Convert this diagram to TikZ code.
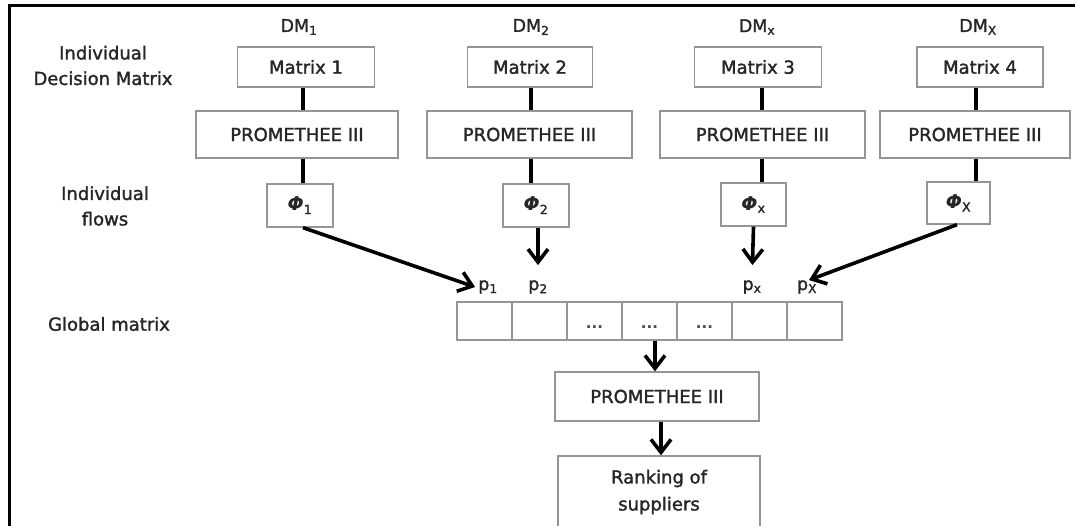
\documentclass[tikz,border=0pt]{standalone}
\usepackage{fontspec}
\setmainfont{DejaVu Sans}
\newfontfamily\heavysans{DejaVu Sans}[FakeBold=1.6]
\newfontfamily\dotfont{DejaVu Sans Bold}
\newfontfamily\phifont{DejaVu Sans Bold Oblique}
\usetikzlibrary{arrows.meta}
\definecolor{boxgray}{HTML}{959595}
\definecolor{txt}{HTML}{262626}
\definecolor{dotgray}{HTML}{4A4A4A}
\newcommand{\phisym}{{\phifont\fontsize{19}{20}\selectfont Φ}}

\begin{document}
\begin{tikzpicture}[x=1pt,y=-1pt,
  box/.style={draw=boxgray, line width=1.3pt, text=txt, inner sep=0pt,
              font=\heavysans\fontsize{18}{27}\selectfont, align=center},
  side/.style={text=txt, inner sep=0pt, align=center,
               font=\heavysans\fontsize{18}{25.5}\selectfont},
  small/.style={text=txt, inner sep=0pt, font=\heavysans\fontsize{17.5}{20}\selectfont},
  dotsty/.style={text=dotgray, inner sep=0pt, font=\dotfont\fontsize{15}{16}\selectfont},
  link/.style={line width=3.6pt, black},
  arr/.style={link, -{Straight Barb[length=13pt,width=20pt]}},
]
\clip (0,0) rectangle (1075,525);

% frame lines along top and left edge
\draw[line width=3pt] (9,530) -- (9,5) -- (1080,5);

% column guides for the vertical connectors
\coordinate (c1) at (303,0);
\coordinate (c2) at (531,0);
\coordinate (c3) at (762,0);
\coordinate (c4) at (976,0);
\coordinate (c5) at (655,0);
\coordinate (c6) at (661,0);

% row captions
\node[side] (capA) at (103,65.5) {Individual\\Decision Matrix};
\node[side] (capB) at (105,206) {Individual\\flows};
\node[side] (capC) at (109,324) {Global matrix};

% decision makers
\node[small] (dm1) at (299,27) {DM\textsubscript{1}};
\node[small] (dm2) at (531,27) {DM\textsubscript{2}};
\node[small] (dm3) at (757,27) {DM\textsubscript{x}};
\node[small] (dm4) at (978,27) {DM\textsubscript{X}};

% individual decision matrices
\node[box, minimum width=137pt, minimum height=40pt] (m1) at (306,67) {Matrix 1};
\node[box, minimum width=125pt, minimum height=40pt] (m2) at (530,67) {Matrix 2};
\node[box, minimum width=127pt, minimum height=40pt] (m3) at (758,67) {Matrix 3};
\node[box, minimum width=126pt, minimum height=40pt] (m4) at (980,67) {Matrix 4};

% PROMETHEE III per decision maker
\node[box, minimum width=202pt, minimum height=47pt] (pr1) at (297,134.5) {PROMETHEE III};
\node[box, minimum width=205pt, minimum height=47pt] (pr2) at (529.5,134.5) {PROMETHEE III};
\node[box, minimum width=205pt, minimum height=47pt] (pr3) at (762.5,134.5) {PROMETHEE III};
\node[box, minimum width=190pt, minimum height=47pt] (pr4) at (975,134.5) {PROMETHEE III};

% individual flows
\node[box, minimum width=66pt, minimum height=43pt] (f1) at (300,205.5) {\phisym\textsubscript{1}};
\node[box, minimum width=66pt, minimum height=43pt] (f2) at (536,205.5) {\phisym\textsubscript{2}};
\node[box, minimum width=65pt, minimum height=43pt] (f3) at (753.5,204.5) {\phisym\textsubscript{x}};
\node[box, minimum width=63pt, minimum height=42pt] (f4) at (958.5,203) {\phisym\textsubscript{X}};

% matrix -> PROMETHEE -> flow links
\foreach \k in {1,2,3,4}{
  \draw[link] (m\k.south -| c\k) -- (pr\k.north -| c\k);
  \draw[link] (pr\k.south -| c\k) -- (f\k.north -| c\k);
}

% positions in the global matrix
\node[small] (p1) at (488,287) {p\textsubscript{1}};
\node[small] (p2) at (538,287) {p\textsubscript{2}};
\node[small] (p3) at (752,287) {p\textsubscript{x}};
\node[small] (p4) at (807,287) {p\textsubscript{X}};

% global matrix cells
\foreach \i in {1,...,7}{
  \pgfmathsetmacro{\gx}{429.5+55*\i}
  \node[box, minimum width=55pt, minimum height=38pt] (g\i) at (\gx,321) {};
}
\foreach \i in {3,4,5}{
  \pgfmathsetmacro{\gx}{429.5+55*\i}
  \node[dotsty] (d\i) at (\gx,327) {...};
}

% flows into the global matrix
\draw[arr] ([xshift=3pt]f1.south) -- ([xshift=-3pt]p1.west);
\draw[arr, shorten >=15pt] (f2.south -| p2) -- (p2.north);
\draw[arr, shorten >=15pt] (f3.south) -- (p3.north);
\draw[arr] ([xshift=-1.5pt]f4.south) -- ([xshift=2pt]p4.north);

% aggregation
\node[box, minimum width=204pt, minimum height=49pt] (pr5) at (657,396.5) {PROMETHEE III};
\node[box, minimum width=202pt, minimum height=72pt] (rk) at (659,492) {Ranking of\\suppliers};

\draw[arr] (g4.south -| c5) -- (pr5.north -| c5);
\draw[arr] (pr5.south -| c6) -- (rk.north -| c6);
\end{tikzpicture}
\end{document}
